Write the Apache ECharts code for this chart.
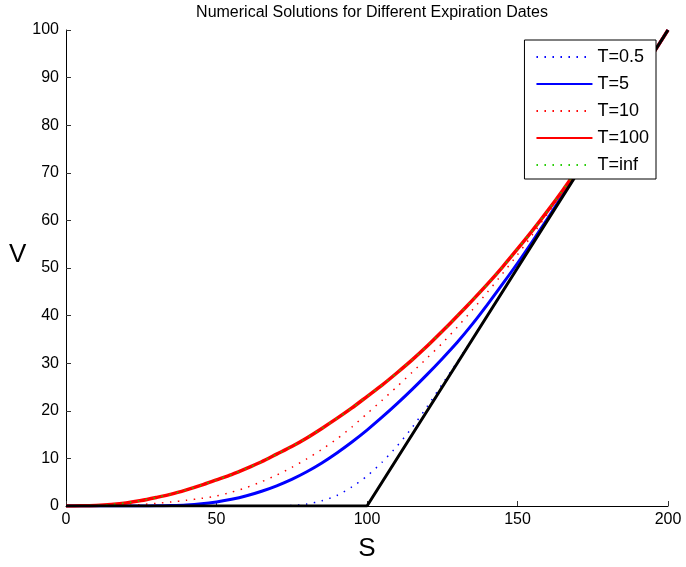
<!DOCTYPE html>
<html>
<head>
<meta charset="utf-8">
<script src="https://cdn.jsdelivr.net/npm/echarts@6/dist/echarts.min.js"></script>
<style>html,body{margin:0;padding:0;background:#fff}#c{width:686px;height:567px}</style>
</head>
<body>
<div id="c"></div>
<script>
const titleText = 'Numerical Solutions for Different Expiration Dates';
const xTicks = [0, 50, 100, 150, 200];
const yTicks = [0, 10, 20, 30, 40, 50, 60, 70, 80, 90, 100];
const S = [0,5,10,15,20,25,30,35,40,45,50,55,60,65,70,75,80,85,90,95,100,105,110,115,120,125,130,135,140,145,150,155,160,165,170,175,180,185,190,195,200];
const T05 = [0,0,0,0,0,0,0,0,0,0,0,0,0,0,0.03,0.1,0.4,1.1,2.2,4.0,6.3,9.2,12.6,16.5,20.9,25.6,30.3,35.1,40.05,45.02,50,55,60,65,70,75,80,85,90,95,100];
const T5 = [0,0,0,0,0,0.01,0.03,0.08,0.2,0.45,0.85,1.4,2.15,3.1,4.25,5.6,7.2,9.05,11.15,13.45,15.95,18.65,21.5,24.5,27.65,30.95,34.4,38.2,42.3,46.6,51.0,55.6,60.4,65.3,70.2,75.1,80.05,85.01,90,95,100];
const T10 = [0,0,0.01,0.05,0.15,0.3,0.55,0.85,1.2,1.6,2.1,2.9,3.9,5.1,6.5,8.1,9.9,11.9,14.1,16.6,19.4,22.2,25.1,28.1,31.1,34.2,37.6,41.2,44.9,48.8,52.8,57.0,61.4,65.9,70.5,75.25,80.1,85.03,90,95,100];
const T100 = [0,0.03,0.13,0.33,0.65,1.15,1.8,2.5,3.4,4.4,5.5,6.6,7.9,9.3,10.9,12.5,14.3,16.3,18.4,20.6,23.0,25.4,28.0,30.7,33.6,36.7,39.9,43.2,46.6,50.2,54.0,57.9,62.0,66.3,70.8,75.4,80.15,85.05,90.01,95,100];
const TInf = [0,0.03,0.13,0.33,0.65,1.15,1.8,2.5,3.4,4.4,5.5,6.6,7.9,9.3,10.9,12.5,14.3,16.3,18.4,20.6,23.0,25.4,28.0,30.7,33.6,36.7,39.9,43.2,46.6,50.2,54.0,57.9,62.0,66.3,70.8,75.4,80.15,85.05,90.01,95,100];
const payoffS = [0, 100, 200];
const payoffV = [0, 0, 100];
const legendNames = ['T=0.5', 'T=5', 'T=10', 'T=100', 'T=inf'];

const pairs = (xs, ys) => xs.map((x, i) => [x, ys[i]]);
const dotted = [1.5, 6.5];
function mk(name, ys, color, width, type) {
  return {
    name, type: 'line', data: pairs(S, ys), showSymbol: false, symbol: 'none',
    smooth: 0.25,
    lineStyle: { color, width, type, cap: 'butt', join: 'round' }, itemStyle: { color },
    emphasis: { disabled: true }
  };
}
const chart = echarts.init(document.getElementById('c'), null, { renderer: 'canvas' });
chart.setOption({
  animation: false,
  backgroundColor: '#fff',
  title: {
    text: titleText, left: 367, top: 0, textAlign: 'center',
    textStyle: { fontFamily: 'Liberation Sans', fontSize: 16, fontWeight: 'normal', color: '#000' }
  },
  grid: { left: 66, right: 18, top: 30, bottom: 61, containLabel: false },
  legend: {
    data: legendNames, orient: 'vertical', right: 30, top: 40,
    itemWidth: 56, itemHeight: 14, itemGap: 9,
    padding: [8, 7, 5, 11],
    backgroundColor: '#fff', borderColor: '#000', borderWidth: 1, borderRadius: 0,
    textStyle: { fontFamily: 'Liberation Sans', fontSize: 18, color: '#000' },
    itemStyle: { opacity: 0 }
  },
  xAxis: {
    type: 'value', min: 0, max: 200, interval: 50,
    name: 'S', nameLocation: 'middle', nameGap: 30,
    nameTextStyle: { fontFamily: 'Liberation Sans', fontSize: 26, color: '#000' },
    axisLine: { show: true, lineStyle: { color: '#000', width: 1 } },
    axisTick: { show: true, inside: true, length: 5, lineStyle: { color: '#333' } },
    axisLabel: { fontFamily: 'Liberation Sans', fontSize: 16, color: '#000', margin: 6,
      formatter: v => xTicks.includes(v) ? String(v) : '' },
    splitLine: { show: false }
  },
  yAxis: {
    type: 'value', min: 0, max: 100, interval: 10,
    name: 'V', nameLocation: 'middle', nameGap: 28, nameRotate: 0,
    nameTextStyle: { fontFamily: 'Liberation Sans', fontSize: 26, color: '#000', verticalAlign: 'bottom' },
    axisLine: { show: true, lineStyle: { color: '#000', width: 1 } },
    axisTick: { show: true, inside: true, length: 5, lineStyle: { color: '#333' } },
    axisLabel: { fontFamily: 'Liberation Sans', fontSize: 16, color: '#000', margin: 7,
      formatter: v => yTicks.includes(v) ? String(v) : '' },
    splitLine: { show: false }
  },
  series: [
    mk('T=0.5', T05, '#0000ff', 1.5, dotted),
    mk('T=5', T5, '#0000ff', 3, 'solid'),
    mk('T=10', T10, '#ff0000', 1.5, dotted),
    mk('T=100', T100, '#ff0000', 3.5, 'solid'),
    mk('T=inf', TInf, '#22cc00', 1.5, dotted),
    {
      name: 'payoff', type: 'line', data: pairs(payoffS, payoffV), showSymbol: false, symbol: 'none',
      lineStyle: { color: '#000', width: 3 }, itemStyle: { color: '#000' }, z: 3,
      emphasis: { disabled: true }
    }
  ]
});
</script>
</body>
</html>
